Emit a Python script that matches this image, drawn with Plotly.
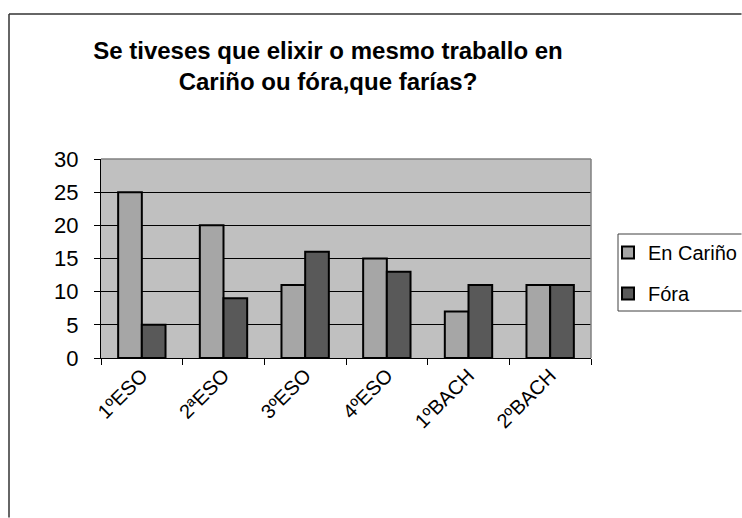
import plotly.graph_objects as go

categories = ["1ºESO", "2ªESO", "3ºESO", "4ºESO", "1ºBACH", "2ºBACH"]
en_carino = [25, 20, 11, 15, 7, 11]
fora = [5, 9, 16, 13, 11, 11]
series_names = ["En Cariño", "Fóra"]
title_text = "Se tiveses que elixir o mesmo traballo en<br>Cariño ou fóra,que farías?"

W, H = 742, 518
L, R, T, B = 101, 151, 159, 160
pw, ph = W - L - R, H - T - B

def px_x(x):
    return (x - L) / pw

def px_y(y):
    return (H - B - y) / ph

FONT = "Liberation Sans, Arial, sans-serif"

fig = go.Figure()
fig.add_trace(go.Bar(x=categories, y=en_carino, name=series_names[0],
                     marker=dict(color="#A6A6A6", line=dict(color="black", width=2)),
                     legendgroup="a"))
fig.add_trace(go.Bar(x=categories, y=fora, name=series_names[1],
                     marker=dict(color="#595959", line=dict(color="black", width=2)),
                     legendgroup="b"))

fig.update_layout(
    width=W, height=H,
    margin=dict(l=L, r=R, t=T, b=B, autoexpand=False),
    paper_bgcolor="white",
    plot_bgcolor="#C0C0C0",
    barmode="group", bargap=0.42, bargroupgap=0,
    font=dict(family=FONT, color="black", size=20),
    title=dict(text=title_text, x=328 / W, xref="container", xanchor="center",
               y=1 - 59 / H, yref="container", yanchor="middle",
               font=dict(family=FONT, size=24, color="black", weight="bold")),
    legend=dict(x=px_x(608), xanchor="left", y=px_y(233), yanchor="top",
                bgcolor="rgba(0,0,0,0)", borderwidth=0,
                font=dict(family=FONT, size=20, color="black"),
                traceorder="grouped", tracegroupgap=12),
    showlegend=True,
)

fig.update_xaxes(type="category", showline=True, linecolor="black", linewidth=1,
                 ticks="outside", ticklen=6, tickcolor="black", tickson="boundaries",
                 tickangle=-45, showgrid=False, ticklabelstandoff=-3, automargin=False,
                 tickfont=dict(family=FONT, size=20, color="black"))
fig.update_yaxes(range=[0, 30], dtick=5, showline=True, linecolor="black", linewidth=1,
                 ticks="outside", ticklen=6, tickcolor="black",
                 showgrid=True, gridcolor="black", gridwidth=1, zeroline=False,
                 ticklabelstandoff=11, automargin=False,
                 tickfont=dict(family=FONT, size=22, color="black"))

R_EDGE = 741.5
B_EDGE = 517.5
line_dark = dict(color="#333333", width=1.5)
line_leg = dict(color="#404040", width=1)
shapes = [
    dict(type="line", xref="paper", yref="paper", x0=0, x1=1, y0=1, y1=1,
         line=dict(color="#808080", width=1.5), layer="above"),
    dict(type="line", xref="paper", yref="paper", x0=1, x1=1, y0=0, y1=1,
         line=dict(color="#808080", width=1.5), layer="above"),
    dict(type="line", xref="paper", yref="paper", x0=px_x(618), x1=px_x(R_EDGE),
         y0=px_y(234), y1=px_y(234), line=line_leg, layer="above"),
    dict(type="line", xref="paper", yref="paper", x0=px_x(618), x1=px_x(R_EDGE),
         y0=px_y(311), y1=px_y(311), line=line_leg, layer="above"),
    dict(type="line", xref="paper", yref="paper", x0=px_x(618), x1=px_x(618),
         y0=px_y(234), y1=px_y(311), line=line_leg, layer="above"),
    dict(type="line", xref="paper", yref="paper", x0=px_x(9), x1=px_x(R_EDGE),
         y0=px_y(14), y1=px_y(14), line=line_dark, layer="above"),
    dict(type="line", xref="paper", yref="paper", x0=px_x(9), x1=px_x(9),
         y0=px_y(14), y1=px_y(B_EDGE), line=line_dark, layer="above"),
]
fig.update_layout(shapes=shapes)

fig.write_html("out.html",
               config={"displayModeBar": False},
               post_script="document.body.style.margin='0';document.body.style.overflow='hidden';")
